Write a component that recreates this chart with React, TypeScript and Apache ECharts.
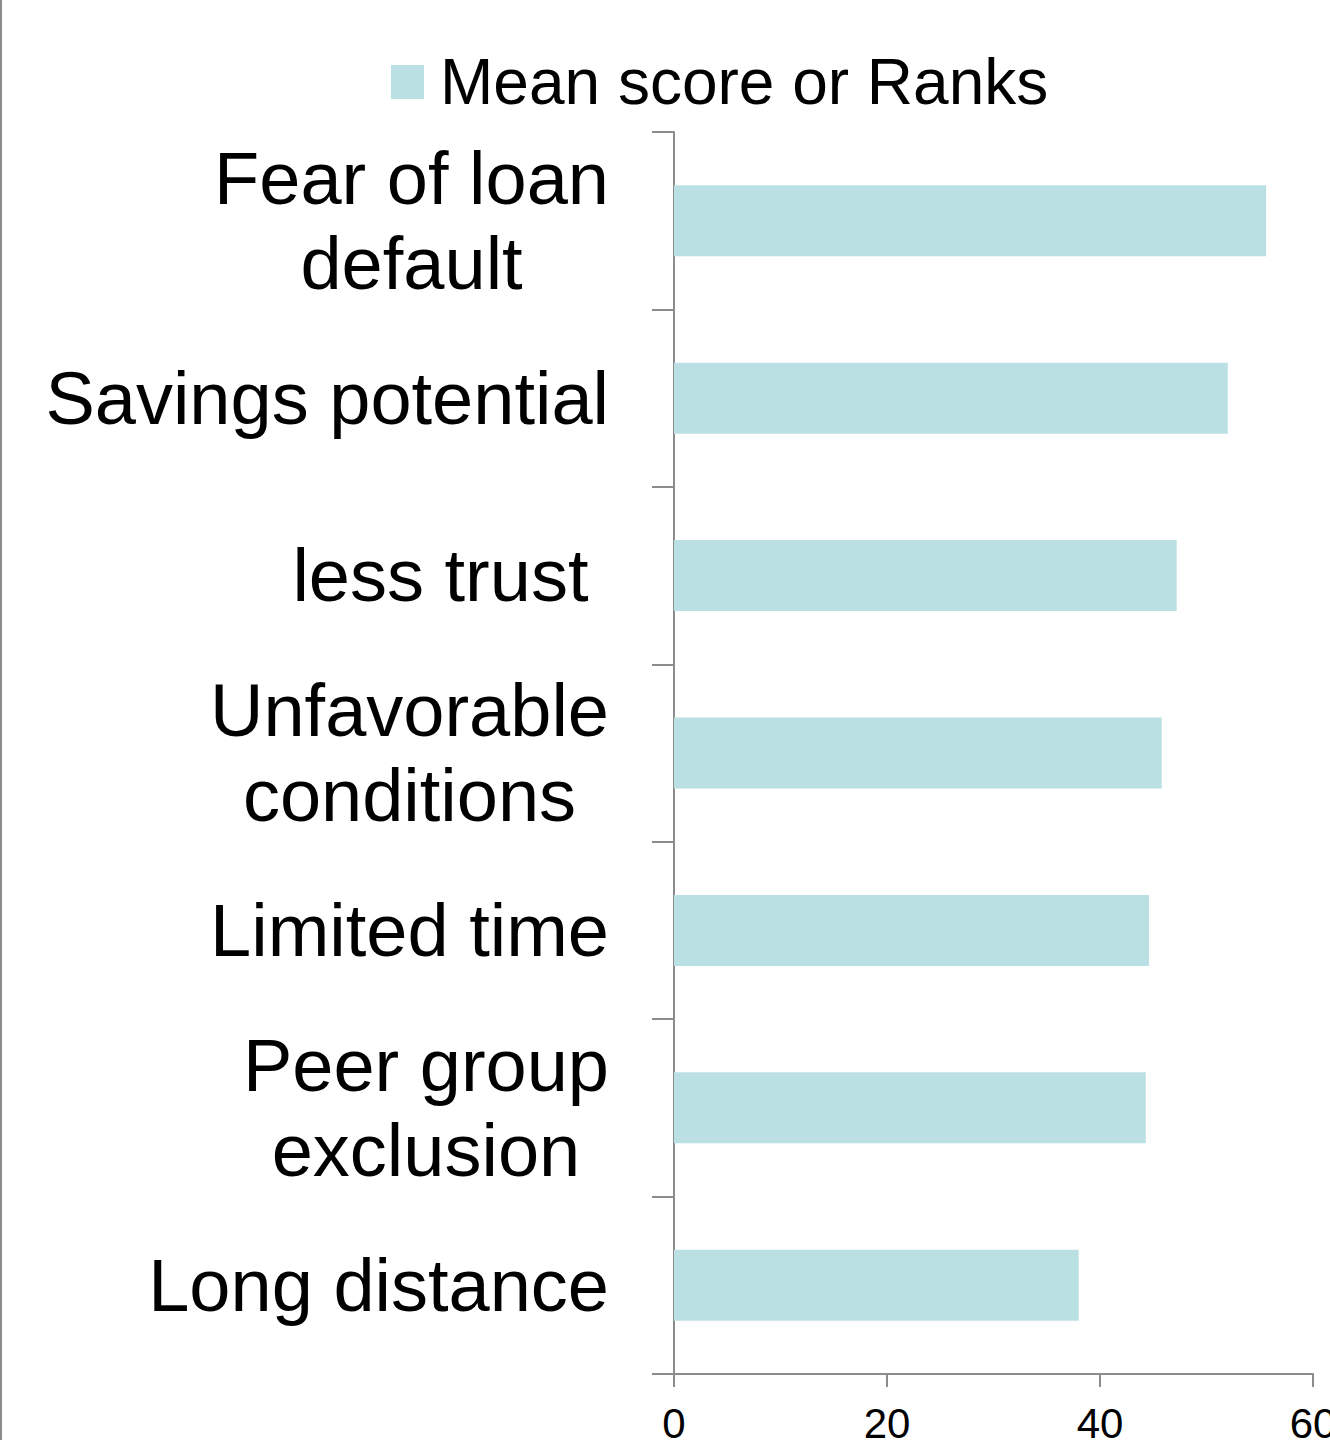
import React, { useEffect, useRef } from "react";
import * as echarts from "echarts";

const categories = [
  "Fear of loan\ndefault",
  "Savings potential",
  "less trust ",
  "Unfavorable\nconditions",
  "Limited time",
  "Peer group\nexclusion",
  "Long distance",
];
const values = [55.6, 52.0, 47.2, 45.8, 44.6, 44.3, 38.0];
const seriesName = "Mean score or Ranks";
const xTicks = { min: 0, max: 60, interval: 20 };

const FONT = "'Liberation Sans', Arial, sans-serif";

export default function App() {
  const ref = useRef<HTMLDivElement>(null);
  useEffect(() => {
    document.body.style.margin = "0";
    document.body.style.overflow = "hidden";
    document.documentElement.style.overflow = "hidden";
    const chart = echarts.init(ref.current!, null, { renderer: "svg" });
    chart.setOption({
      animation: false,
      backgroundColor: "#ffffff",
      textStyle: { fontFamily: FONT },
      graphic: [
        {
          type: "rect",
          shape: { x: 0, y: 0, width: 2, height: 1440 },
          style: { fill: "#8c8c8c" },
        },
      ],
      legend: {
        left: 386,
        top: 45,
        itemWidth: 33,
        itemHeight: 34,
        icon: "rect",
        data: [seriesName],
        textStyle: {
          fontSize: 64,
          color: "#000",
          fontFamily: FONT,
          padding: [0, 0, 0, 11],
        },
      },
      grid: {
        left: 674,
        right: 17,
        top: 132,
        bottom: 66,
        containLabel: false,
        outerBoundsMode: "none",
      },
      xAxis: {
        type: "value",
        min: xTicks.min,
        max: xTicks.max,
        interval: xTicks.interval,
        splitLine: { show: false },
        axisLine: { show: true, lineStyle: { color: "#8c8c8c", width: 2 } },
        axisTick: { show: true, length: 13, lineStyle: { color: "#8c8c8c", width: 2 } },
        axisLabel: { fontSize: 42, color: "#000", margin: 28, fontFamily: FONT },
      },
      yAxis: {
        type: "category",
        inverse: true,
        data: categories,
        axisLine: { show: true, lineStyle: { color: "#8c8c8c", width: 2 } },
        axisTick: { show: true, length: 22, lineStyle: { color: "#8c8c8c", width: 2 } },
        axisLabel: {
          margin: 65,
          align: "right",
          color: "#000",
          formatter: (v: string) =>
            v
              .split("\n")
              .map((l) => `{c|${l}}`)
              .join("\n"),
          rich: {
            c: {
              align: "center",
              fontSize: 74,
              lineHeight: 85,
              color: "#000",
              fontFamily: FONT,
            },
          },
        },
      },
      series: [
        {
          name: seriesName,
          type: "bar",
          data: values,
          barCategoryGap: "60%",
          itemStyle: { color: "#BBE0E3" },
        },
      ],
    });
    return () => chart.dispose();
  }, []);
  return (
    <div
      ref={ref}
      style={{ position: "absolute", left: 0, top: 0, width: 1330, height: 1440 }}
    />
  );
}
